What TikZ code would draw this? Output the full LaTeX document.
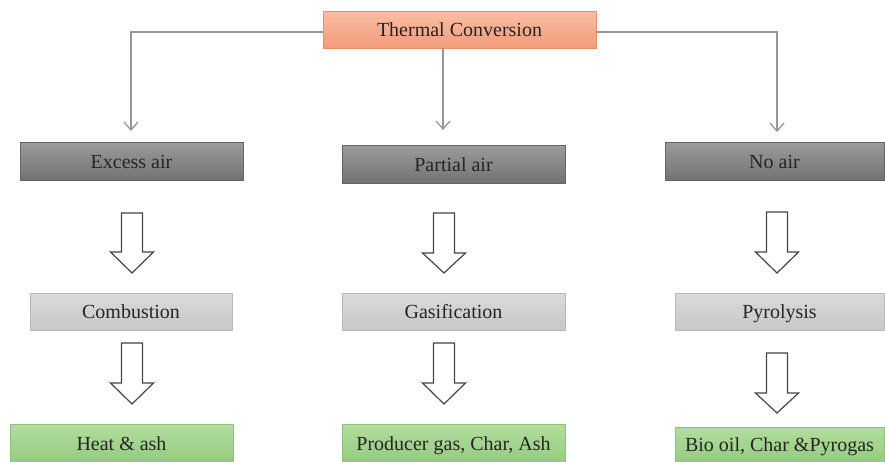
\documentclass[tikz,border=0pt]{standalone}
\usepackage{fontspec}
\setmainfont{Liberation Serif}
\usetikzlibrary{arrows.meta}
\definecolor{txt}{RGB}{40,36,36}
\definecolor{salA}{RGB}{250,190,165}
\definecolor{salB}{RGB}{242,155,122}
\definecolor{salD}{RGB}{240,140,100}
\definecolor{dgA}{RGB}{155,155,155}
\definecolor{dgB}{RGB}{115,115,115}
\definecolor{dgD}{RGB}{100,100,100}
\definecolor{lgA}{RGB}{218,218,218}
\definecolor{lgB}{RGB}{200,200,200}
\definecolor{lgD}{RGB}{185,185,185}
\definecolor{grA}{RGB}{178,222,158}
\definecolor{grB}{RGB}{148,203,128}
\definecolor{grD}{RGB}{140,195,120}
\definecolor{conncol}{RGB}{150,150,150}
\definecolor{blkcol}{RGB}{70,70,70}
\newcommand\blkarrow[4]{%
  \draw[blkarr] (#1-10.5,#2) -- (#1+10.5,#2) -- (#1+10.5,#3) -- (#1+21.5,#3)
    -- (#1,#4) -- (#1-21.5,#3) -- (#1-10.5,#3) -- cycle;}
\begin{document}
\begin{tikzpicture}[x=1pt,y=-1pt,
  box/.style={rectangle,inner sep=0pt,font=\fontsize{20}{22}\selectfont,text=txt,
    text height=14pt,text depth=0pt},
  salbox/.style={box,draw=salD,line width=0.8pt,top color=salA,bottom color=salB},
  dgbox/.style={box,draw=dgD,line width=0.8pt,top color=dgA,bottom color=dgB},
  lgbox/.style={box,draw=lgD,line width=0.8pt,top color=lgA,bottom color=lgB},
  grbox/.style={box,draw=grD,line width=0.8pt,top color=grA,bottom color=grB},
  conn/.style={draw=conncol,line width=1.4pt,-{Straight Barb[length=8pt,width=14pt,line width=1.3pt]}},
  blkarr/.style={draw=blkcol,line width=1.2pt,fill=white,line join=miter}]
\useasboundingbox (0,0) rectangle (885,461);
\fill[white] (0,0) rectangle (885,461);
% boxes
\node[salbox,minimum width=273pt,minimum height=37pt] (tc) at (459.5,29.5) {Thermal Conversion};
\node[dgbox,minimum width=223pt,minimum height=38pt] (ea) at (131.5,161) {Excess air};
\node[dgbox,minimum width=223pt,minimum height=38pt] (pa) at (453.5,164) {Partial air};
\node[dgbox,minimum width=219pt,minimum height=38pt] (na) at (774.5,161) {No air};
\node[lgbox,minimum width=202pt,minimum height=37pt] (cb) at (131,311.5) {Combustion};
\node[lgbox,minimum width=223pt,minimum height=37pt] (gs) at (453.5,311.5) {Gasification};
\node[lgbox,minimum width=209pt,minimum height=37pt] (py) at (779.5,311.5) {Pyrolysis};
\node[grbox,minimum width=223pt,minimum height=38pt] (ha) at (121.5,443) {Heat \& ash};
\node[grbox,minimum width=223pt,minimum height=38pt] (pg) at (453.5,443) {Producer gas, Char, Ash};
\node[grbox,minimum width=209pt,minimum height=35pt] (bo) at (779.5,444.5) {Bio oil, Char \&Pyrogas};
% connector end points
\coordinate (l1) at (131,131);
\coordinate (m1) at (443,130);
\coordinate (r1) at (777,132);
\draw[conn] ([yshift=-2.5pt]tc.west) -| (l1);
\draw[conn] (tc.south -| m1) -- (m1);
\draw[conn] ([yshift=-2.5pt]tc.east) -| (r1);
% block arrows
\blkarrow{132}{213}{252}{273}
\blkarrow{132}{343}{383}{404}
\blkarrow{444}{213}{253}{273}
\blkarrow{444}{343}{383}{404}
\blkarrow{777}{212}{252}{273}
\blkarrow{777}{353}{393}{413}
\end{tikzpicture}
\end{document}
